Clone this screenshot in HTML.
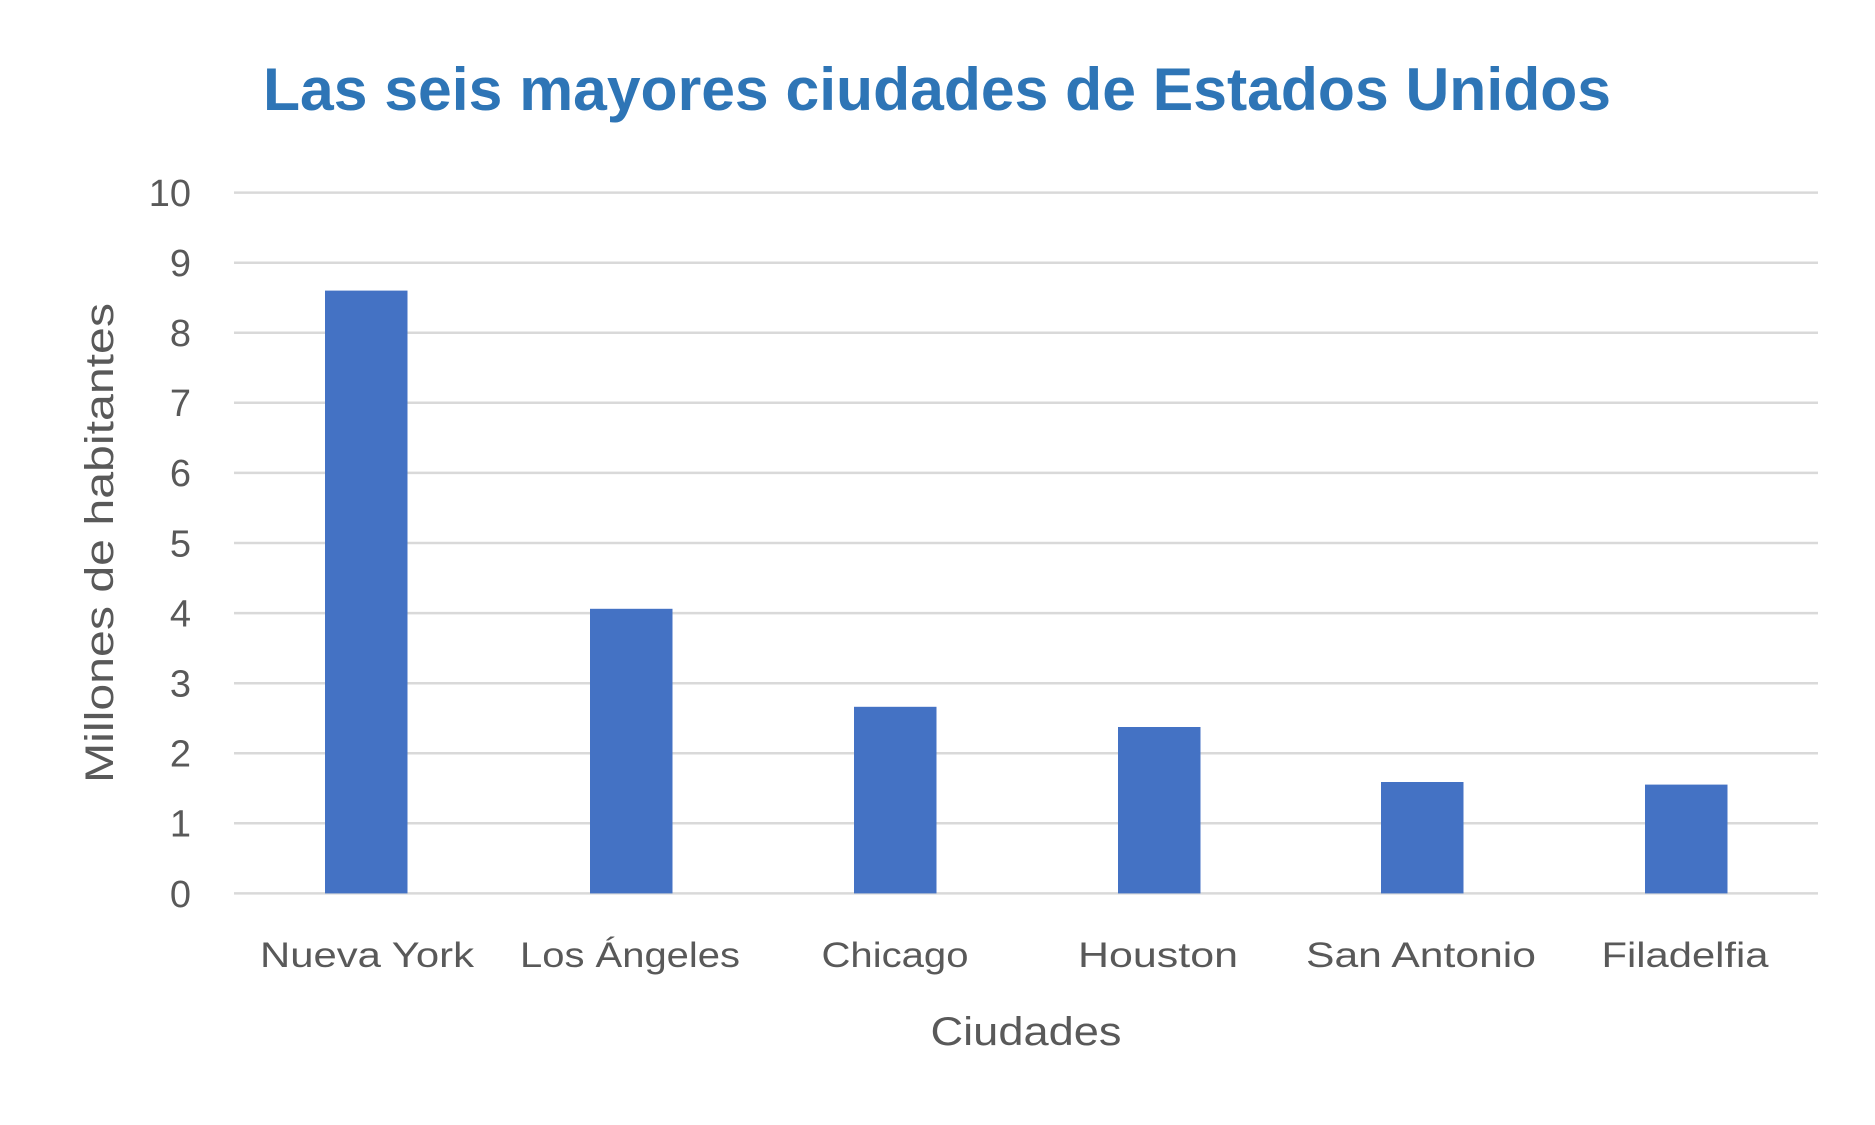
<!DOCTYPE html>
<html><head><meta charset="utf-8"><style>
html,body{margin:0;padding:0;background:#fff;}
svg{display:block;}
text{font-family:"Liberation Sans",sans-serif;}
</style></head><body>
<svg width="1875" height="1125" viewBox="0 0 1875 1125" xmlns="http://www.w3.org/2000/svg">
<rect width="1875" height="1125" fill="#fff"/>
<text x="937" y="110" text-anchor="middle" font-size="60" font-weight="bold" fill="#2E75B6" textLength="1348" lengthAdjust="spacingAndGlyphs">Las seis mayores ciudades de Estados Unidos</text>
<g stroke="#D9D9D9" stroke-width="2.5">
<line x1="234" x2="1818" y1="192.6" y2="192.6"/>
<line x1="234" x2="1818" y1="262.7" y2="262.7"/>
<line x1="234" x2="1818" y1="332.8" y2="332.8"/>
<line x1="234" x2="1818" y1="402.8" y2="402.8"/>
<line x1="234" x2="1818" y1="472.9" y2="472.9"/>
<line x1="234" x2="1818" y1="543" y2="543"/>
<line x1="234" x2="1818" y1="613.1" y2="613.1"/>
<line x1="234" x2="1818" y1="683.2" y2="683.2"/>
<line x1="234" x2="1818" y1="753.2" y2="753.2"/>
<line x1="234" x2="1818" y1="823.3" y2="823.3"/>
<line x1="234" x2="1818" y1="893.4" y2="893.4"/>
</g>
<g fill="#4472C4">
<rect x="325" y="290.6" width="82.5" height="602.8"/>
<rect x="590" y="608.8" width="82.5" height="284.6"/>
<rect x="854" y="706.8" width="82.5" height="186.6"/>
<rect x="1118" y="727" width="82.5" height="166.4"/>
<rect x="1381" y="782" width="82.5" height="111.4"/>
<rect x="1645" y="784.6" width="82.5" height="108.8"/>
</g>
<g font-size="38" fill="#595959" text-anchor="end">
<text x="191" y="206">10</text>
<text x="191" y="276">9</text>
<text x="191" y="346">8</text>
<text x="191" y="416">7</text>
<text x="191" y="486">6</text>
<text x="191" y="556.5">5</text>
<text x="191" y="626.5">4</text>
<text x="191" y="696.5">3</text>
<text x="191" y="766.5">2</text>
<text x="191" y="836.5">1</text>
<text x="191" y="907">0</text>
</g>
<g font-size="35" fill="#595959" text-anchor="middle">
<text x="367" y="967" textLength="214" lengthAdjust="spacingAndGlyphs">Nueva York</text>
<text x="630" y="967" textLength="220" lengthAdjust="spacingAndGlyphs">Los Ángeles</text>
<text x="895" y="967" textLength="147" lengthAdjust="spacingAndGlyphs">Chicago</text>
<text x="1158" y="967" textLength="160" lengthAdjust="spacingAndGlyphs">Houston</text>
<text x="1421" y="967" textLength="230" lengthAdjust="spacingAndGlyphs">San Antonio</text>
<text x="1685" y="967" textLength="167" lengthAdjust="spacingAndGlyphs">Filadelfia</text>
</g>
<text x="1026" y="1045" font-size="40" fill="#595959" text-anchor="middle" textLength="191" lengthAdjust="spacingAndGlyphs">Ciudades</text>
<text transform="translate(113,543) rotate(-90)" font-size="40" fill="#595959" text-anchor="middle" textLength="480" lengthAdjust="spacingAndGlyphs">Millones de habitantes</text>
</svg>
</body></html>
